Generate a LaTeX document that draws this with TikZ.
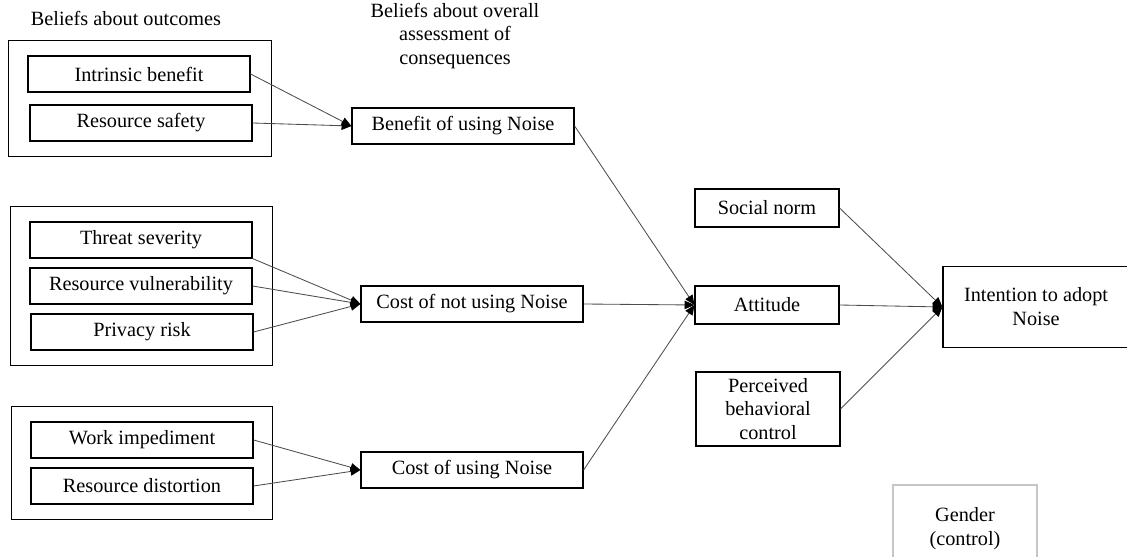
\documentclass[tikz,border=0pt]{standalone}
\usepackage{fontspec}
\setmainfont{Liberation Serif}
\usetikzlibrary{fit,arrows.meta}

\begin{document}
\begin{tikzpicture}[x=0.025cm,y=-0.025cm,
        font=\fontsize{14.4}{17}\selectfont,
        item/.style={draw,line width=0.8pt,minimum width=5.55cm,minimum height=0.9cm,inner sep=0pt},
        construct/.style={draw,line width=0.8pt,minimum width=3.6cm,minimum height=0.95cm,align=center,inner sep=0pt},
        group/.style={draw,line width=0.8pt,inner xsep=0.47cm,inner ysep=0.38cm},
        link/.style={gray!60!black,line width=0.6pt,-{Triangle[length=7pt,width=6pt,black]}}]
        \useasboundingbox (0,0) rectangle (1127,557);

        % Beliefs about outcomes
        \node (outtitle) at (126,18) {Beliefs about outcomes};
        \node[align=center] (asstitle) at (455,36) {Beliefs about overall\\assessment of\\consequences};

        \node[item] (ib) at (139,74) {Intrinsic benefit};
        \node[item] (rs) at (141,123) {Resource safety};
        \node[group,fit=(ib)(rs)] (benefitgroup) {};

        \node[item] (ts) at (141,240) {Threat severity};
        \node[item] (rv) at (141,286) {Resource vulnerability};
        \node[item] (pr) at (142,332) {Privacy risk};
        \node[group,fit=(ts)(pr)] (threatgroup) {};

        \node[item] (wi) at (142,440) {Work impediment};
        \node[item] (rd) at (142,486) {Resource distortion};
        \node[group,fit=(wi)(rd)] (costgroup) {};

        % Overall assessment
        \node[item] (ben) at (463,126) {Benefit of using Noise};
        \node[item] (cnu) at (472,304) {Cost of not using Noise};
        \node[item] (cu) at (472,470) {Cost of using Noise};

        % TPB constructs
        \node[construct] (sn) at (767,208) {Social norm};
        \node[construct] (att) at (767,305) {Attitude};
        \node[construct,minimum height=1.85cm] (pbc) at (768,409) {Perceived\\behavioral\\control};
        \node[draw,line width=0.8pt,minimum width=4.65cm,minimum height=2.02cm,align=center] (int) at (1036,307) {Intention to adopt\\Noise};
        \node[draw=gray!45,line width=0.8pt,minimum width=3.6cm,minimum height=2.2cm,align=center] (gen) at (965,529) {Gender\\(control)};

        % Arrows
        \draw[link] (ib.east) -- (ben.west);
        \draw[link] (rs.east) -- (ben.west);
        \draw[link] (ts.south east) -- (cnu.west);
        \draw[link] (rv.east) -- (cnu.west);
        \draw[link] (pr.east) -- (cnu.west);
        \draw[link] (wi.east) -- (cu.west);
        \draw[link] (rd.east) -- (cu.west);
        \draw[link] (ben.east) -- (att.west);
        \draw[link] (cnu.east) -- (att.west);
        \draw[link] (cu.east) -- (att.west);
        \draw[link] (sn.east) -- (int.west);
        \draw[link] (att.east) -- (int.west);
        \draw[link] (pbc.east) -- (int.west);

    \end{tikzpicture}
\end{document}
